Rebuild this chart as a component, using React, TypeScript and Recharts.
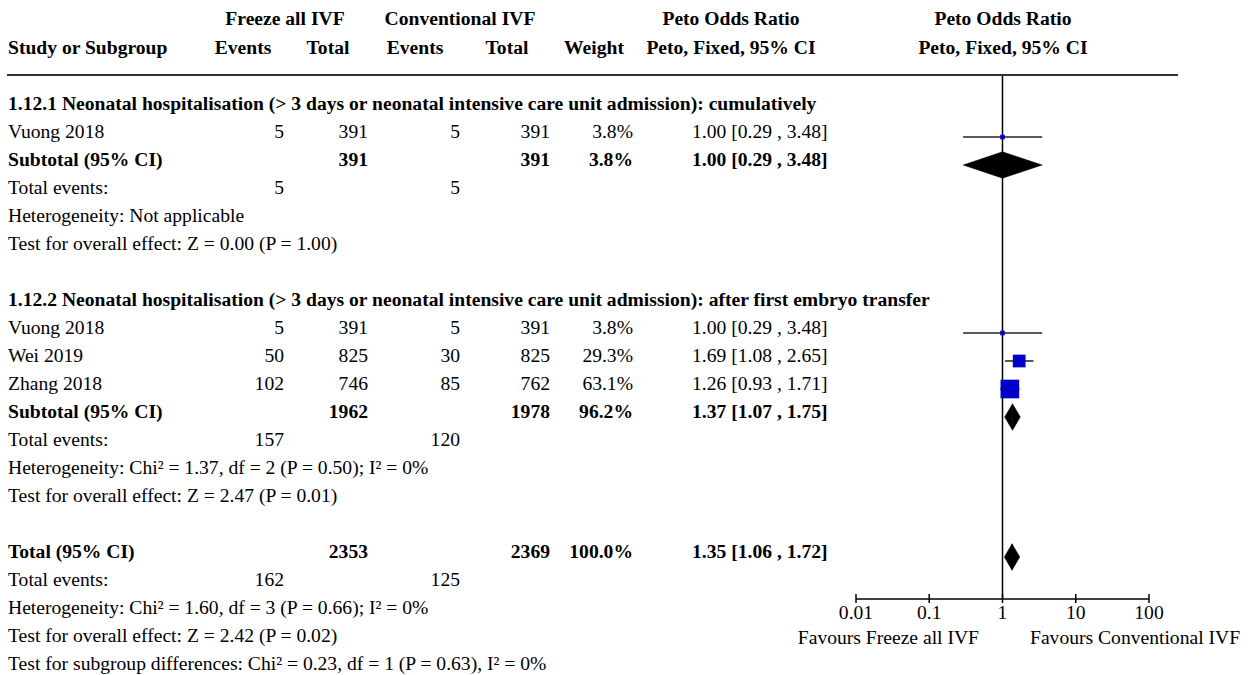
import React from "react";
import {
  ComposedChart,
  XAxis,
  YAxis,
  Scatter,
  ReferenceLine,
  ReferenceArea,
} from "recharts";

// ---- data ----
const groupRows = [0, 7];
const groupTitles = [
  "1.12.1 Neonatal hospitalisation (> 3 days or neonatal intensive care unit admission): cumulatively",
  "1.12.2 Neonatal hospitalisation (> 3 days or neonatal intensive care unit admission): after first embryo transfer",
];

const studyNames = ["Vuong 2018", "Vuong 2018", "Wei 2019", "Zhang 2018"];
const studyRows = [1, 8, 9, 10];
const freezeEvents = [5, 5, 50, 102];
const freezeTotal = [391, 391, 825, 746];
const convEvents = [5, 5, 30, 85];
const convTotal = [391, 391, 825, 762];
const studyWeight = [3.8, 3.8, 29.3, 63.1];
const studyOR = [1.0, 1.0, 1.69, 1.26];
const studyLo = [0.29, 0.29, 1.08, 0.93];
const studyHi = [3.48, 3.48, 2.65, 1.71];

const pooledLabels = ["Subtotal (95% CI)", "Subtotal (95% CI)", "Total (95% CI)"];
const pooledRows = [2, 11, 16];
const pooledFreezeTotal = [391, 1962, 2353];
const pooledConvTotal = [391, 1978, 2369];
const pooledWeight = [3.8, 96.2, 100.0];
const pooledOR = [1.0, 1.37, 1.35];
const pooledLo = [0.29, 1.07, 1.06];
const pooledHi = [3.48, 1.75, 1.72];

const eventRows = [3, 12, 17];
const eventsFreeze = [5, 157, 162];
const eventsConv = [5, 120, 125];

const noteRows = [4, 5, 13, 14, 18, 19, 20];
const notes = [
  "Heterogeneity: Not applicable",
  "Test for overall effect: Z = 0.00 (P = 1.00)",
  "Heterogeneity: Chi² = 1.37, df = 2 (P = 0.50); I² = 0%",
  "Test for overall effect: Z = 2.47 (P = 0.01)",
  "Heterogeneity: Chi² = 1.60, df = 3 (P = 0.66); I² = 0%",
  "Test for overall effect: Z = 2.42 (P = 0.02)",
  "Test for subgroup differences: Chi² = 0.23, df = 1 (P = 0.63), I² = 0%",
];

const xTicks = [0.01, 0.1, 1, 10, 100];
const favourLeft = "Favours Freeze all IVF";
const favourRight = "Favours Conventional IVF";

// ---- layout ----
const W = 1248;
const H = 675;
const FONT = "'Liberation Serif', 'Times New Roman', serif";
const FS = 19.6;
const ROW_H = 28;
const MARK_Y0 = 109; // pixel y of row 0 marks
const PLOT_TOP = 75;
const PLOT_BOTTOM = 599;
const yMin = (PLOT_TOP - MARK_Y0) / ROW_H;
const yMax = (PLOT_BOTTOM - MARK_Y0) / ROW_H;
const tickTop = (594 - MARK_Y0) / ROW_H;
const tickBottom = (603 - MARK_Y0) / ROW_H;
const DIAMOND_HALF = 0.47;

const COL = { label: 8, fe: 284, ft: 368, ce: 460, ct: 550, w: 633, ci: 692 };

const baseline = (row: number) => MARK_Y0 + 1 + row * ROW_H;
const ciText = (or: number, lo: number, hi: number) =>
  `${or.toFixed(2)} [${lo.toFixed(2)} , ${hi.toFixed(2)}]`;

const studyData = studyRows.map((r, i) => ({ x: studyOR[i], y: r, w: studyWeight[i] }));

function Square(props: any) {
  const { cx, cy, payload } = props;
  const s = 2.35 * Math.sqrt(payload.w);
  return <rect x={cx - s / 2} y={cy - s / 2} width={s} height={s} fill="#0000c8" />;
}

function LeftHalf(props: any) {
  const { x, y, width, height } = props;
  return (
    <polygon
      points={`${x},${y + height / 2} ${x + width},${y} ${x + width},${y + height}`}
      fill="#000"
      stroke="#000"
      strokeWidth={0.5}
    />
  );
}

function RightHalf(props: any) {
  const { x, y, width, height } = props;
  return (
    <polygon
      points={`${x},${y} ${x + width},${y + height / 2} ${x},${y + height}`}
      fill="#000"
      stroke="#000"
      strokeWidth={0.5}
    />
  );
}

function T({ x, row, y, children, anchor = "start", bold = false }: any) {
  return (
    <text
      x={x}
      y={y !== undefined ? y : baseline(row)}
      textAnchor={anchor}
      fontWeight={bold ? "bold" : "normal"}
    >
      {children}
    </text>
  );
}

function TableText() {
  return (
    <svg
      width={W}
      height={H}
      style={{ position: "absolute", left: 0, top: 0, pointerEvents: "none" }}
      fontFamily={FONT}
      fontSize={FS}
      fill="#000"
    >
      {/* header */}
      <T x={285} y={25} anchor="middle" bold>Freeze all IVF</T>
      <T x={460} y={25} anchor="middle" bold>Conventional IVF</T>
      <T x={731} y={25} anchor="middle" bold>Peto Odds Ratio</T>
      <T x={1003} y={25} anchor="middle" bold>Peto Odds Ratio</T>
      <T x={COL.label} y={54} bold>Study or Subgroup</T>
      <T x={243} y={54} anchor="middle" bold>Events</T>
      <T x={328} y={54} anchor="middle" bold>Total</T>
      <T x={415} y={54} anchor="middle" bold>Events</T>
      <T x={507} y={54} anchor="middle" bold>Total</T>
      <T x={594} y={54} anchor="middle" bold>Weight</T>
      <T x={731} y={54} anchor="middle" bold>Peto, Fixed, 95% CI</T>
      <T x={1003} y={54} anchor="middle" bold>Peto, Fixed, 95% CI</T>
      <line x1={7} x2={1178} y1={75} y2={75} stroke="#333" strokeWidth={2} />

      {groupRows.map((r, i) => (
        <T key={`g${i}`} x={COL.label} row={r} bold>{groupTitles[i]}</T>
      ))}

      {studyRows.map((r, i) => (
        <g key={`s${i}`}>
          <T x={COL.label} row={r}>{studyNames[i]}</T>
          <T x={COL.fe} row={r} anchor="end">{freezeEvents[i]}</T>
          <T x={COL.ft} row={r} anchor="end">{freezeTotal[i]}</T>
          <T x={COL.ce} row={r} anchor="end">{convEvents[i]}</T>
          <T x={COL.ct} row={r} anchor="end">{convTotal[i]}</T>
          <T x={COL.w} row={r} anchor="end">{studyWeight[i].toFixed(1)}%</T>
          <T x={COL.ci} row={r}>{ciText(studyOR[i], studyLo[i], studyHi[i])}</T>
        </g>
      ))}

      {pooledRows.map((r, i) => (
        <g key={`p${i}`}>
          <T x={COL.label} row={r} bold>{pooledLabels[i]}</T>
          <T x={COL.ft} row={r} anchor="end" bold>{pooledFreezeTotal[i]}</T>
          <T x={COL.ct} row={r} anchor="end" bold>{pooledConvTotal[i]}</T>
          <T x={COL.w} row={r} anchor="end" bold>{pooledWeight[i].toFixed(1)}%</T>
          <T x={COL.ci} row={r} bold>{ciText(pooledOR[i], pooledLo[i], pooledHi[i])}</T>
        </g>
      ))}

      {eventRows.map((r, i) => (
        <g key={`e${i}`}>
          <T x={COL.label} row={r}>Total events:</T>
          <T x={COL.fe} row={r} anchor="end">{eventsFreeze[i]}</T>
          <T x={COL.ce} row={r} anchor="end">{eventsConv[i]}</T>
        </g>
      ))}

      {noteRows.map((r, i) => (
        <T key={`n${i}`} x={COL.label} row={r}>{notes[i]}</T>
      ))}

      <T x={979} y={644} anchor="end">{favourLeft}</T>
      <T x={1030} y={644}>{favourRight}</T>
    </svg>
  );
}

export default function App() {
  return (
    <div style={{ position: "relative", width: W, height: H, background: "#fff" }}>
      <style>{"body{margin:0}"}</style>
      <ComposedChart
        width={W}
        height={H}
        margin={{ top: PLOT_TOP, right: W - 1149, bottom: H - PLOT_BOTTOM - 30, left: 856 }}
      >
        <XAxis
          dataKey="x"
          type="number"
          scale="log"
          domain={[0.01, 100]}
          ticks={xTicks}
          interval={0}
          allowDataOverflow
          height={30}
          tickFormatter={(v: number) => String(v)}
          tick={{ fill: "#000", fontSize: FS, fontFamily: FONT }}
          tickLine={false}
          tickSize={0}
          tickMargin={6}
          axisLine={{ stroke: "#000", strokeWidth: 1.5 }}
        />
        <YAxis dataKey="y" type="number" domain={[yMin, yMax]} reversed hide allowDataOverflow />

        <ReferenceLine x={1} stroke="#000" strokeWidth={1.5} />
        {xTicks.map((t) => (
          <ReferenceLine
            key={`t${t}`}
            segment={[{ x: t, y: tickTop }, { x: t, y: tickBottom }]}
            stroke="#000"
            strokeWidth={1.5}
            ifOverflow="visible"
          />
        ))}

        {studyRows.map((r, i) => (
          <ReferenceLine
            key={`ci${i}`}
            segment={[{ x: studyLo[i], y: r }, { x: studyHi[i], y: r }]}
            stroke="#222"
            strokeWidth={1.5}
          />
        ))}

        {pooledRows.map((r, i) => (
          <ReferenceArea
            key={`dl${i}`}
            x1={pooledLo[i]}
            x2={pooledOR[i]}
            y1={r - DIAMOND_HALF}
            y2={r + DIAMOND_HALF}
            shape={<LeftHalf />}
          />
        ))}
        {pooledRows.map((r, i) => (
          <ReferenceArea
            key={`dr${i}`}
            x1={pooledOR[i]}
            x2={pooledHi[i]}
            y1={r - DIAMOND_HALF}
            y2={r + DIAMOND_HALF}
            shape={<RightHalf />}
          />
        ))}

        <Scatter data={studyData} shape={<Square />} isAnimationActive={false} />
      </ComposedChart>
      <TableText />
    </div>
  );
}
